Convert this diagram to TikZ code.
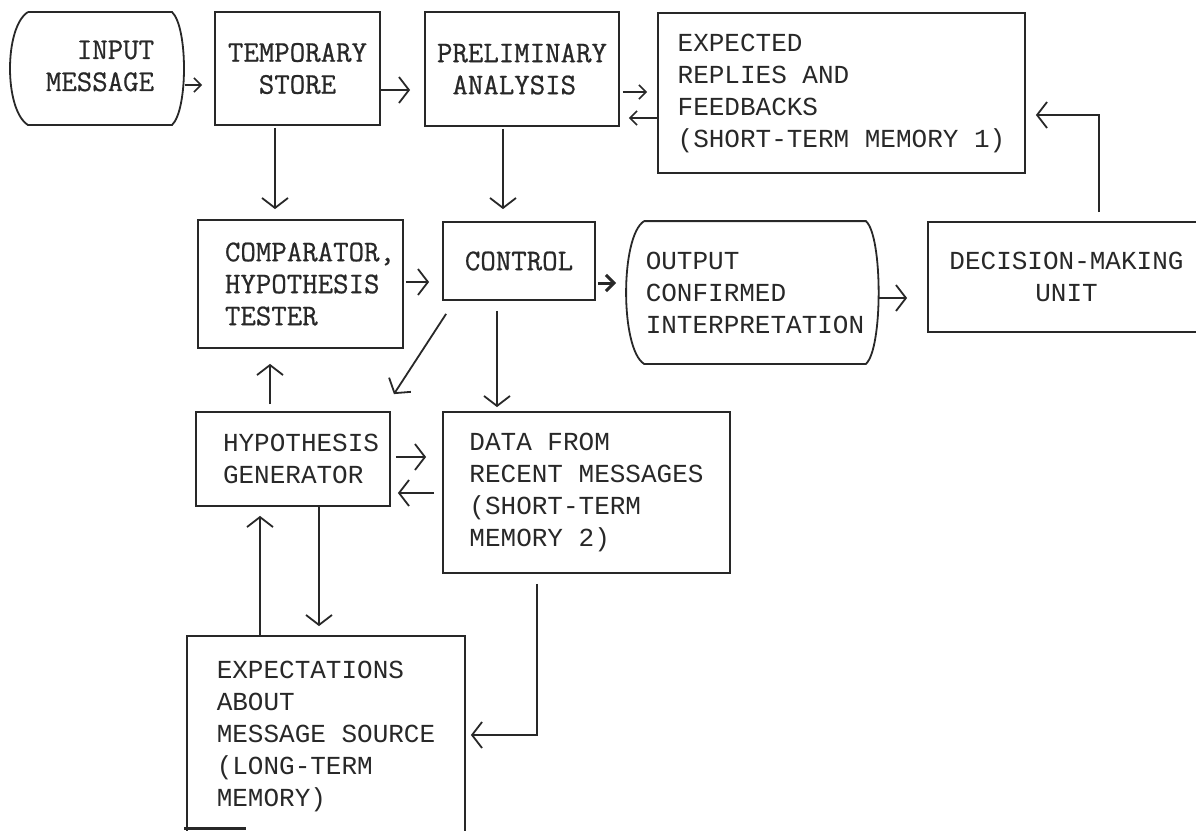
\documentclass[tikz,border=0pt]{standalone}
\usepackage{fontspec}
\newfontfamily\courier{Liberation Mono}
\newfontfamily\typew[FakeBold=0.7]{Latin Modern Mono}
\usetikzlibrary{arrows.meta,calc}
\hyphenpenalty=10000
\exhyphenpenalty=10000
\definecolor{ink}{RGB}{40,40,40}
\tikzset{
  box/.style={draw=ink, line width=1.8pt, inner sep=0pt, text=ink, align=left},
  serifbox/.style={box, font=\typew\fontsize{30}{32}\selectfont},
  monobox/.style={box, font=\courier\fontsize{26}{32}\selectfont},
  outline/.style={draw=ink, line width=1.8pt},
  arr/.style={draw=ink, line width=1.8pt, -{Straight Barb[length=10pt,width=26pt,line width=1.8pt]}},
  arrs/.style={draw=ink, line width=1.6pt, -{Straight Barb[length=7pt,width=14pt,line width=1.6pt]}},
  arrb/.style={draw=ink, line width=3pt, -{Straight Barb[length=8pt,width=16pt,line width=3pt]}},
}
\begin{document}
\begin{tikzpicture}[x=1pt,y=-1pt]
\useasboundingbox[fill=white] (0,0) rectangle (1196,830);

% row 1
\node[serifbox, draw=none, minimum width=144pt, minimum height=113pt] (input) at (100,66) {\phantom{XX}INPUT\\MESSAGE};
\draw[outline] (28,12) -- (172,12)
  .. controls +(16,15) and +(16,-15) .. (172,125) -- (28,125)
  .. controls +(-24,-15) and +(-24,15) .. (28,12);
\node[serifbox, minimum width=165pt, minimum height=113pt] (temp) at (297.5,68.5) {TEMPORARY\\\phantom{XX}STORE};
\node[serifbox, minimum width=194pt, minimum height=114pt] (prelim) at (522,69) {PRELIMINARY\\\phantom{X}ANALYSIS};
\node[monobox, minimum width=367pt, minimum height=160pt] (expected) at (841.5,93) {EXPECTED\\REPLIES AND\\FEEDBACKS\\(SHORT-TERM MEMORY 1)};

% row 2
\node[serifbox, minimum width=205pt, minimum height=128pt, text width=151pt] (comp) at (300.5,284) {COMPARATOR,\\HYPOTHESIS\\TESTER};
\node[serifbox, minimum width=152pt, minimum height=78pt] (control) at (519,261) {CONTROL};
\node[monobox, draw=none, minimum width=220pt, minimum height=141pt] (output) at (755,292.5) {OUTPUT\\CONFIRMED\\INTERPRETATION};
\draw[outline] (output.north west) -- (output.north east)
  .. controls +(17,15) and +(17,-15) .. (output.south east) -- (output.south west)
  .. controls +(-24,-15) and +(-24,15) .. (output.north west);
\node[monobox, align=center, minimum width=277pt, minimum height=110pt] (decision) at (1066.5,277) {DECISION-MAKING\\UNIT};

% row 3
\node[monobox, minimum width=194pt, minimum height=94pt, text width=140pt] (hypgen) at (293,459) {HYPOTHESIS\\GENERATOR};
\node[monobox, minimum width=287pt, minimum height=161pt] (data) at (586.5,492.5) {DATA FROM\\RECENT MESSAGES\\(SHORT-TERM\\MEMORY 2)};

% row 4
\node[monobox, minimum width=278pt, minimum height=200pt] (expect) at (326,736) {EXPECTATIONS\\ABOUT\\MESSAGE SOURCE\\(LONG-TERM\\MEMORY)};
\draw[ink, line width=3pt] ($(expect.south west)+(-2,-8)$) -- ++(62,0);

% connectors
\draw[arrs] ($(input.east)+(12,19)$) -- ($(temp.west)+(-12,16.5)$);
\draw[arr] ($(temp.east)+(0,21.5)$) -- ($(prelim.west)+(-14,21)$);
\draw[arrs] ($(prelim.east)+(3,23)$) -- ($(expected.west)+(-10,-1)$);
\draw[arrs] ($(expected.west)+(0,25)$) -- ($(prelim.east)+(9,49)$);
\draw[arr] ($(decision.north west)+(172,-9)$) |- ($(expected.east)+(10,22)$);
\draw[arr] ($(temp.south)+(-22.5,2)$) -- ($(comp.north)+(-25.5,-10)$);
\draw[arr] ($(prelim.south)+(-19,2)$) -- ($(control.north)+(-16,-12)$);
\draw[arr] ($(comp.east)+(2,-2)$) -- ($(control.west)+(-13,21)$);
\draw[arrb] ($(control.east)+(2,22)$) -- ($(output.west)+(-28,-9.5)$);
\draw[arr] ($(output.east)+(13,5.5)$) -- ($(decision.west)+(-20,21)$);
\draw[arr] ($(control.south west)+(4,13)$) -- ($(hypgen.north east)+(3,-17)$);
\draw[arr] ($(control.south)+(-22,10)$) -- ($(data.north)+(-89.5,-4)$);
\draw[arr] ($(hypgen.north)+(-23,-7)$) -- ($(comp.south)+(-30.5,15)$);
\draw[arr] ($(hypgen.east)+(5,-2)$) -- ($(data.west)+(-16,-35.5)$);
\draw[arr] ($(data.west)+(-8,0.5)$) -- ($(hypgen.east)+(7,34)$);
\draw[arr] ($(hypgen.south)+(26,0)$) -- ($(expect.north)+(-7,-9)$);
\draw[arr] ($(expect.north)+(-66,0)$) -- ($(hypgen.south)+(-33,9)$);
\draw[arr] ($(data.south)+(-49.5,10)$) |- ($(expect.east)+(5,-1)$);
\end{tikzpicture}
\end{document}
